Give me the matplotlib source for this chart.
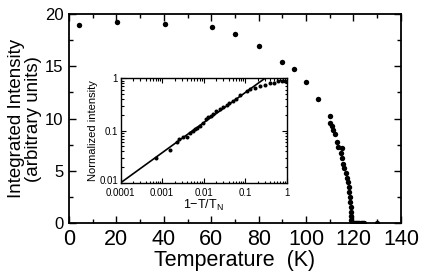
import matplotlib
matplotlib.use("Agg")
import matplotlib.pyplot as plt
import matplotlib.transforms as mtransforms
from matplotlib.ticker import MultipleLocator, FixedLocator, FixedFormatter, LogLocator, NullFormatter

plt.rcParams['font.family'] = ['Liberation Sans', 'DejaVu Sans']
plt.rcParams['mathtext.fontset'] = 'custom'
plt.rcParams['mathtext.rm'] = 'Liberation Sans'
plt.rcParams['mathtext.it'] = 'Liberation Sans:italic'

# Main panel data: temperature (K) vs integrated intensity
temperature = [4.4, 20.3, 40.3, 60.3, 70.1, 80.0, 89.8, 94.8, 99.9, 105.2,
               110.1, 110.1, 110.8, 111.5, 112.2, 112.9, 113.6, 115.0, 114.6, 115.0,
               115.7, 116.1, 116.7, 117.1, 117.8, 118.2, 118.2, 118.5, 118.5, 118.8,
               118.8, 119.1, 119.1, 119.5, 120.0, 120.5, 121.0, 121.5, 122.0, 122.5,
               123.0, 123.5, 124.0, 124.5, 130.0]
intensity = [18.9, 19.2, 19.0, 18.8, 18.06, 16.96, 15.4, 14.77, 13.47, 11.87,
             10.25, 9.6, 9.3, 8.9, 8.5, 7.8, 7.3, 7.16, 6.7, 6.2,
             5.7, 5.25, 4.8, 4.3, 3.9, 3.5, 3.0, 2.5, 2.06, 1.6,
             1.1, 0.7, 0.3, 0.06, 0.02, 0.02, 0.02, 0.02, 0.02, 0.02,
             0.02, 0.02, 0.02, 0.02, 0.0]

# Inset data: reduced temperature vs normalized intensity
inset_x = [7.1e-4, 1.55e-3, 2.3e-3, 2.6e-3, 3.1e-3, 3.9e-3, 4.7e-3, 5.4e-3, 6.2e-3,
           7.1e-3, 8.1e-3, 9.5e-3, 1.15e-2, 1.3e-2, 1.5e-2, 1.7e-2, 2.0e-2, 2.45e-2,
           2.9e-2, 3.6e-2, 4.2e-2, 5.2e-2, 6.0e-2, 7.5e-2, 0.109, 0.130, 0.174,
           0.229, 0.30, 0.40, 0.49, 0.63, 0.76, 0.91]
inset_y = [0.0294, 0.042, 0.061, 0.068, 0.075, 0.075, 0.091, 0.10, 0.105,
           0.113, 0.122, 0.141, 0.164, 0.184, 0.19, 0.207, 0.237, 0.26,
           0.28, 0.315, 0.34, 0.367, 0.40, 0.47, 0.57, 0.615, 0.66,
           0.71, 0.745, 0.80, 0.82, 0.875, 0.89, 0.875]
# Power-law fit line endpoints
fit_x = [1e-4, 0.30]
fit_y = [0.01, 1.0]

inset_xticks = [1e-4, 1e-3, 1e-2, 1e-1, 1]
inset_xticklabels = ["0.0001", "0.001", "0.01", "0.1", "1"]
inset_yticks = [0.01, 0.1, 1]
inset_yticklabels = ["0.01", "0.1", "1"]

fig = plt.figure(figsize=(4.22, 2.74), dpi=100)
ax = fig.add_axes([0.1635, 0.185, 0.7865, 0.764])
ax.plot(temperature, intensity, 'o', color='black', ms=3.9, mew=0)
ax.set_xlim(0, 140)
ax.set_ylim(0, 20)
ax.xaxis.set_major_locator(MultipleLocator(20))
ax.xaxis.set_minor_locator(MultipleLocator(10))
ax.yaxis.set_major_locator(MultipleLocator(5))
ax.yaxis.set_minor_locator(MultipleLocator(2.5))
ax.tick_params(which='both', direction='in', top=True, right=True, width=1.0)
ax.tick_params(which='major', length=5)
ax.tick_params(which='minor', length=3)
ax.tick_params(axis='x', labelsize=15.5, pad=4)
ax.tick_params(axis='y', labelsize=12, pad=4)
for s in ax.spines.values():
    s.set_linewidth(1.3)
ax.set_xlabel("Temperature  (K)", fontsize=15.5, labelpad=0)
ax.set_ylabel("Integrated Intensity\n(arbitrary units)", fontsize=13.5, labelpad=2, linespacing=1.0)

axi = fig.add_axes([0.286, 0.333, 0.393, 0.381])
axi.set_xscale('log')
axi.set_yscale('log')
axi.plot(fit_x, fit_y, '-', color='black', lw=1.2)
axi.plot(inset_x, inset_y, 'o', color='black', ms=2.9, mew=0)
axi.set_xlim(1e-4, 1)
axi.set_ylim(0.01, 1)
axi.xaxis.set_major_locator(FixedLocator(inset_xticks))
axi.xaxis.set_major_formatter(FixedFormatter(inset_xticklabels))
axi.yaxis.set_major_locator(FixedLocator(inset_yticks))
axi.yaxis.set_major_formatter(FixedFormatter(inset_yticklabels))
axi.xaxis.set_minor_locator(LogLocator(base=10, subs=range(2, 10), numticks=20))
axi.yaxis.set_minor_locator(LogLocator(base=10, subs=range(2, 10), numticks=20))
axi.xaxis.set_minor_formatter(NullFormatter())
axi.yaxis.set_minor_formatter(NullFormatter())
axi.tick_params(which='both', direction='in', top=True, right=True, labelsize=7, width=0.8)
axi.tick_params(which='major', length=3.5)
axi.tick_params(axis='x', which='major', pad=4)
axi.tick_params(axis='y', which='major', pad=2)
axi.tick_params(which='minor', length=1.8)
for s in axi.spines.values():
    s.set_linewidth(1.0)
axi.set_xlabel("1\u2212T/T$_{\\rm N}$", fontsize=9, labelpad=0)
axi.set_ylabel("Normalized intensity", fontsize=8, labelpad=1)

# nudge the lowest inset y tick label up slightly, as in the reference
fig.canvas.draw()
ylabs = axi.get_yticklabels()
if ylabs:
    ylabs[0].set_transform(ylabs[0].get_transform() +
                           mtransforms.ScaledTranslation(0, 3 / 100, fig.dpi_scale_trans))

fig.savefig("out.png", dpi=100)
